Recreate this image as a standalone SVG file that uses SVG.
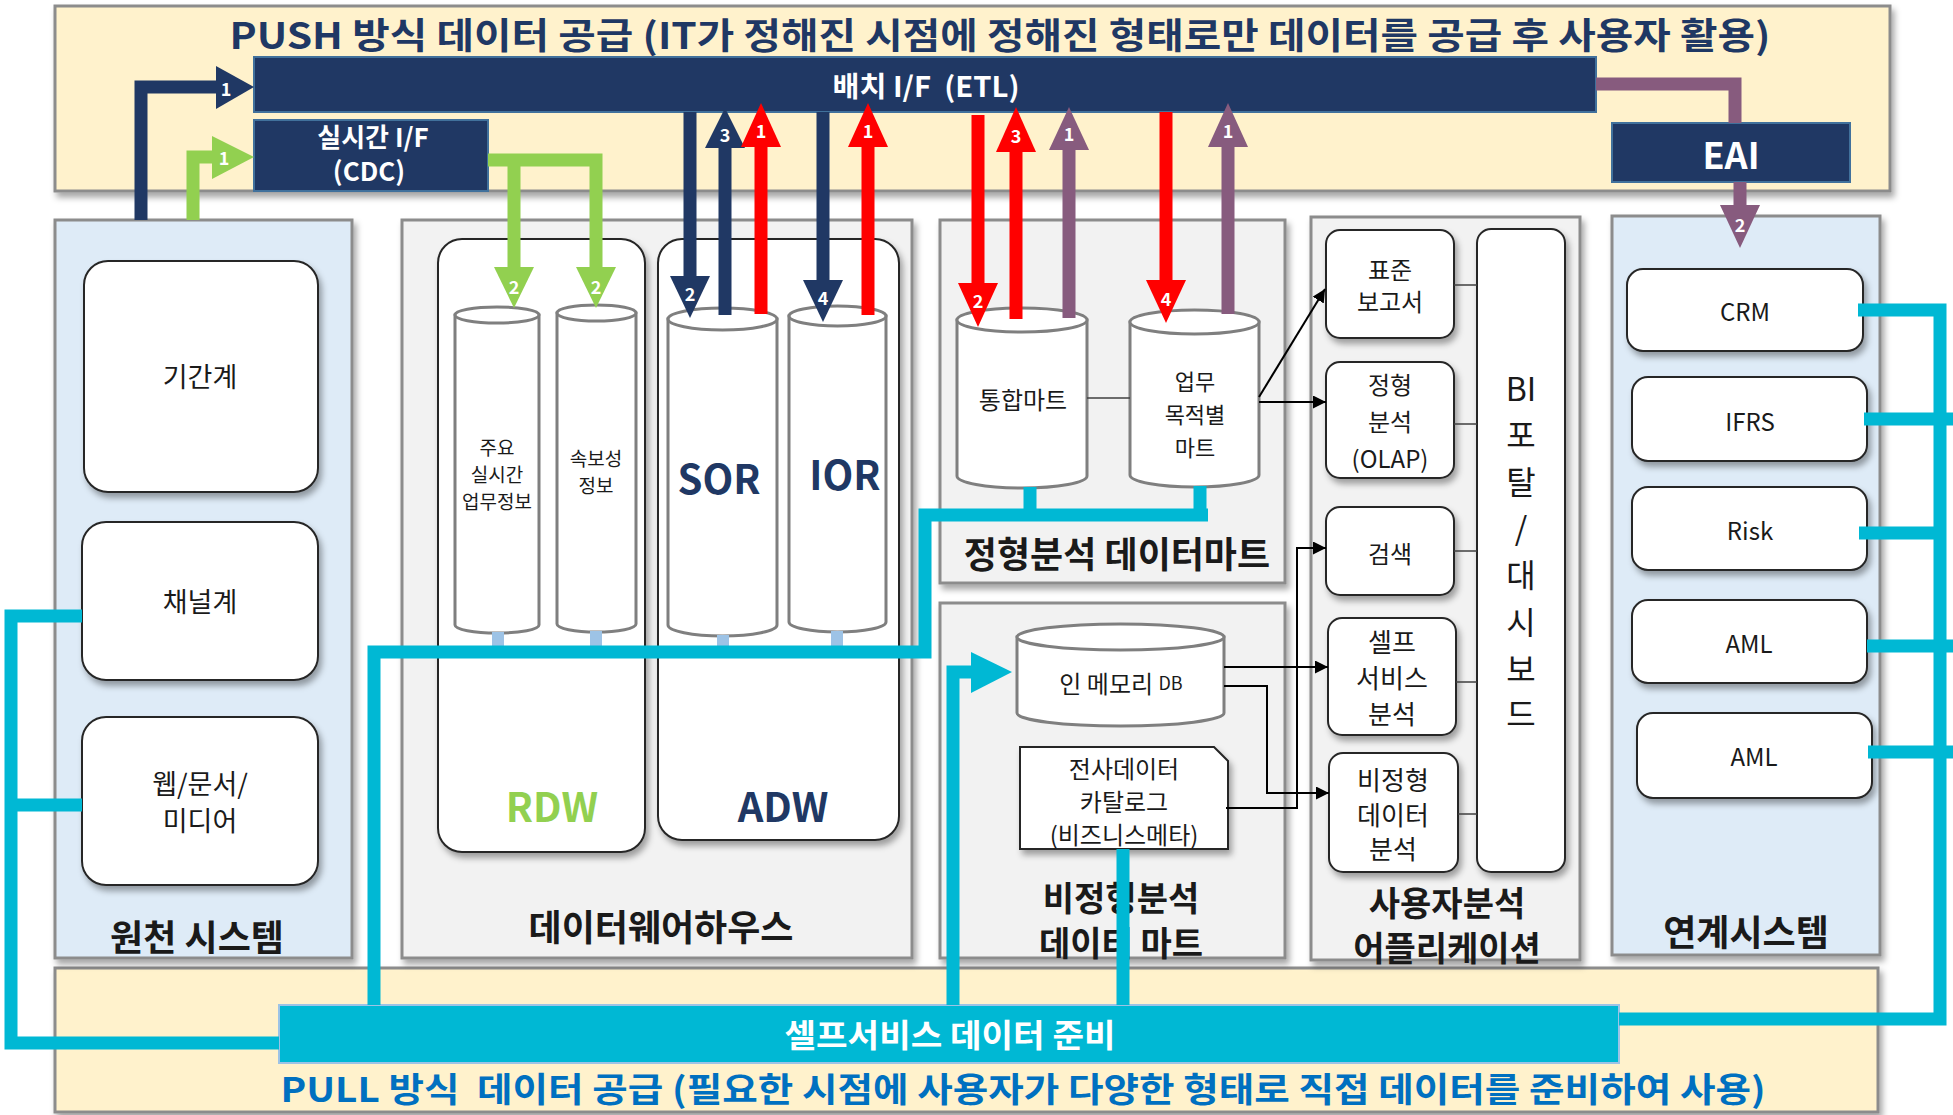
<svg xmlns="http://www.w3.org/2000/svg" width="1953" height="1115" viewBox="0 0 1953 1115">
<defs>
<filter id="sh" x="-10%" y="-10%" width="130%" height="130%"><feDropShadow dx="3" dy="5" stdDeviation="3" flood-color="#000" flood-opacity="0.35"/></filter>
<marker id="blk" viewBox="0 0 10 10" refX="10" refY="5" markerWidth="13" markerHeight="13" markerUnits="userSpaceOnUse" orient="auto"><path d="M0,0 L10,5 L0,10 Z" fill="#000"/></marker>
<style>
.t{font-family:"Noto Sans CJK KR","Noto Sans",sans-serif;dominant-baseline:central;text-anchor:middle;fill:#1a1a1a}
.b{font-weight:700}
.w{fill:#fff}
.zone{fill:#FFF2CC;stroke:#8C8C8C;stroke-width:3}
.pB{fill:#DEEBF7;stroke:#8C8C8C;stroke-width:3}
.pG{fill:#F2F2F2;stroke:#8C8C8C;stroke-width:3}
.box{fill:#fff;stroke:#262626;stroke-width:2}
.cyl{fill:#fff;stroke:#7F7F7F;stroke-width:3}
.nbar{fill:#203864;stroke:#41719C;stroke-width:2}
.cbar{fill:#00B8D4;stroke:#9DC3E6;stroke-width:2}
.ln{fill:none;stroke-width:13;stroke-linejoin:miter}
.navy{stroke:#203864}.fnavy{fill:#203864}
.green{stroke:#92D050}.fgreen{fill:#92D050}
.red{stroke:#FF0000}.fred{fill:#FF0000}
.pur{stroke:#875B7E}.fpur{fill:#875B7E}
.cyan{stroke:#00B8D4}.fcyan{fill:#00B8D4}
.lb{stroke:#9DC3E6;stroke-width:12;fill:none}
.thin{stroke:#000;stroke-width:2;fill:none}
.gl{stroke:#404040;stroke-width:1.5;fill:none}
.num{font-family:"Noto Sans CJK KR","Noto Sans",sans-serif;dominant-baseline:central;text-anchor:middle;fill:#fff;font-size:18px;font-weight:700}
</style>
</defs>

<!-- PUSH zone -->
<g id="push-zone">
<rect class="zone" x="55" y="6" width="1835" height="185" filter="url(#sh)"/>
<text class="t b" x="1000" y="33" font-size="36" style="fill:#1F3864" textLength="1541" lengthAdjust="spacingAndGlyphs">PUSH 방식 데이터 공급 (IT가 정해진 시점에 정해진 형태로만 데이터를 공급 후 사용자 활용)</text>
</g>
<g id="batch-if">
<rect class="nbar" x="254" y="57" width="1342" height="55"/>
<text class="t b w" x="926" y="85" font-size="28" xml:space="preserve" textLength="187" lengthAdjust="spacingAndGlyphs">배치 I/F  (ETL)</text>
</g>
<g id="cdc-if">
<rect class="nbar" x="254" y="120" width="234" height="71"/>
<text class="t b w" x="373" y="135" font-size="26">실시간 I/F</text>
<text class="t b w" x="369" y="169" font-size="26">(CDC)</text>
</g>
<g id="eai">
<rect class="nbar" x="1612" y="123" width="238" height="59"/>
<text class="t b w" x="1731" y="153" font-size="36">EAI</text>
</g>

<!-- PULL zone -->
<g id="pull-zone">
<rect class="zone" x="55" y="968" width="1823" height="144" filter="url(#sh)"/>
<text class="t b" x="1023" y="1087" font-size="34" style="fill:#0070C0" xml:space="preserve" textLength="1485" lengthAdjust="spacingAndGlyphs">PULL 방식  데이터 공급 (필요한 시점에 사용자가 다양한 형태로 직접 데이터를 준비하여 사용)</text>
</g>

<!-- Source systems -->
<g id="src-panel">
<rect class="pB" x="55" y="220" width="297" height="738" filter="url(#sh)"/>
<text class="t b" x="197" y="935" font-size="36">원천 시스템</text>
</g>
<g id="n-gigan"><rect class="box" x="84" y="261" width="234" height="231" rx="24" filter="url(#sh)"/><text class="t" x="200" y="375" font-size="27">기간계</text></g>
<g id="n-channel"><rect class="box" x="82" y="522" width="236" height="158" rx="24" filter="url(#sh)"/><text class="t" x="200" y="600" font-size="27">채널계</text></g>
<g id="n-web"><rect class="box" x="82" y="717" width="236" height="168" rx="24" filter="url(#sh)"/><text class="t" x="200" y="782" font-size="27">웹/문서/</text><text class="t" x="200" y="819" font-size="27">미디어</text></g>

<!-- Data warehouse -->
<g id="dw-panel">
<rect class="pG" x="402" y="220" width="510" height="738" filter="url(#sh)"/>
<text class="t b" x="661" y="925" font-size="36">데이터웨어하우스</text>
</g>
<g id="rdw"><rect class="box" x="438" y="239" width="207" height="613" rx="24" filter="url(#sh)"/><text class="t b" x="552" y="805" font-size="40" style="fill:#92D050">RDW</text></g>
<g id="adw"><rect class="box" x="658" y="239" width="241" height="601" rx="24" filter="url(#sh)"/><text class="t b" x="783" y="805" font-size="40" style="fill:#203864">ADW</text></g>
<g id="cyl-main">
<path class="cyl" d="M455,315 V625 A42,8 0 0 0 539,625 V315 Z"/><ellipse class="cyl" cx="497" cy="315" rx="42" ry="8"/>
<text class="t" x="497" y="446" font-size="19">주요</text><text class="t" x="497" y="473" font-size="19">실시간</text><text class="t" x="497" y="500" font-size="19">업무정보</text>
</g>
<g id="cyl-fast">
<path class="cyl" d="M557,313 V624 A39.5,8 0 0 0 636,624 V313 Z"/><ellipse class="cyl" cx="596.5" cy="313" rx="39.5" ry="8"/>
<text class="t" x="596" y="457" font-size="19">속보성</text><text class="t" x="596" y="484" font-size="19">정보</text>
</g>
<g id="cyl-sor">
<path class="cyl" d="M668,319 V625 A54.5,11 0 0 0 777,625 V319 Z"/><ellipse class="cyl" cx="722.5" cy="319" rx="54.5" ry="11"/>
<text class="t b" x="719" y="477" font-size="40" style="fill:#203864">SOR</text>
</g>
<g id="cyl-ior">
<path class="cyl" d="M789,316 V622 A48.5,10 0 0 0 886,622 V316 Z"/><ellipse class="cyl" cx="837.5" cy="316" rx="48.5" ry="10"/>
<text class="t b" x="845" y="473" font-size="40" style="fill:#203864">IOR</text>
</g>

<!-- Structured data mart -->
<g id="mart-panel">
<rect class="pG" x="940" y="220" width="345" height="363" filter="url(#sh)"/>
<text class="t b" x="1117" y="552" font-size="36">정형분석 데이터마트</text>
</g>
<g id="cyl-integ">
<path class="cyl" d="M957,320 V476 A65,12 0 0 0 1087,476 V320 Z"/><ellipse class="cyl" cx="1022" cy="320" rx="65" ry="12"/>
<text class="t" x="1023" y="398" font-size="24">통합마트</text>
</g>
<g id="cyl-biz">
<path class="cyl" d="M1130,322 V475 A64.5,12 0 0 0 1259,475 V322 Z"/><ellipse class="cyl" cx="1194.5" cy="322" rx="64.5" ry="12"/>
<text class="t" x="1195" y="380" font-size="22">업무</text><text class="t" x="1195" y="413" font-size="22">목적별</text><text class="t" x="1195" y="446" font-size="22">마트</text>
</g>

<!-- Unstructured data mart -->
<g id="unstruct-panel">
<rect class="pG" x="940" y="603" width="345" height="355" filter="url(#sh)"/>
<text class="t b" x="1121" y="896" font-size="34">비정형분석</text>
<text class="t b" x="1121" y="941" font-size="34">데이터 마트</text>
</g>
<g id="cyl-inmem">
<path class="cyl" d="M1017,637 V713 A103.5,13 0 0 0 1224,713 V637 Z"/><ellipse class="cyl" cx="1120.5" cy="637" rx="103.5" ry="13"/>
<text class="t" x="1121" y="682" font-size="24">인 메모리 <tspan font-size="18">DB</tspan></text>
</g>
<g id="catalog">
<path class="box" d="M1020,747 H1214 L1228,761 V849 H1020 Z" filter="url(#sh)"/>
<text class="t" x="1124" y="767" font-size="24">전사데이터</text><text class="t" x="1124" y="800" font-size="24">카탈로그</text><text class="t" x="1124" y="833" font-size="24">(비즈니스메타)</text>
</g>

<!-- User analysis applications -->
<g id="app-panel">
<rect class="pG" x="1311" y="217" width="269" height="743" filter="url(#sh)"/>
<text class="t b" x="1447" y="901" font-size="34">사용자분석</text>
<text class="t b" x="1447" y="946" font-size="34">어플리케이션</text>
</g>
<g id="app-std"><rect class="box" x="1326" y="230" width="128" height="108" rx="14" filter="url(#sh)"/><text class="t" x="1390" y="268" font-size="24">표준</text><text class="t" x="1390" y="300" font-size="24">보고서</text></g>
<g id="app-olap"><rect class="box" x="1326" y="362" width="128" height="116" rx="14" filter="url(#sh)"/><text class="t" x="1390" y="383" font-size="24">정형</text><text class="t" x="1390" y="420" font-size="24">분석</text><text class="t" x="1390" y="457" font-size="24">(OLAP)</text></g>
<g id="app-search"><rect class="box" x="1326" y="507" width="128" height="88" rx="14" filter="url(#sh)"/><text class="t" x="1390" y="552" font-size="24">검색</text></g>
<g id="app-self"><rect class="box" x="1328" y="618" width="128" height="117" rx="14" filter="url(#sh)"/><text class="t" x="1392" y="640" font-size="26">셀프</text><text class="t" x="1392" y="676" font-size="26">서비스</text><text class="t" x="1392" y="712" font-size="26">분석</text></g>
<g id="app-unstr"><rect class="box" x="1329" y="753" width="129" height="119" rx="14" filter="url(#sh)"/><text class="t" x="1393" y="778" font-size="26">비정형</text><text class="t" x="1393" y="813" font-size="26">데이터</text><text class="t" x="1393" y="847" font-size="26">분석</text></g>
<g id="bi-portal"><rect class="box" x="1477" y="229" width="88" height="643" rx="14" filter="url(#sh)"/>
<text class="t" x="1521" font-size="32"><tspan x="1521" y="387">BI</tspan><tspan x="1521" y="433">포</tspan><tspan x="1521" y="480">탈</tspan><tspan x="1521" y="526">/</tspan><tspan x="1521" y="573">대</tspan><tspan x="1521" y="620">시</tspan><tspan x="1521" y="667">보</tspan><tspan x="1521" y="712">드</tspan></text>
</g>

<!-- Linked systems -->
<g id="link-panel">
<rect class="pB" x="1612" y="216" width="268" height="739" filter="url(#sh)"/>
<text class="t b" x="1746" y="930" font-size="36">연계시스템</text>
</g>
<g id="crm"><rect class="box" x="1627" y="269" width="236" height="82" rx="16" filter="url(#sh)"/><text class="t" x="1745" y="310" font-size="24">CRM</text></g>
<g id="ifrs"><rect class="box" x="1632" y="377" width="235" height="84" rx="16" filter="url(#sh)"/><text class="t" x="1750" y="420" font-size="24">IFRS</text></g>
<g id="risk"><rect class="box" x="1632" y="487" width="235" height="83" rx="16" filter="url(#sh)"/><text class="t" x="1750" y="529" font-size="24">Risk</text></g>
<g id="aml1"><rect class="box" x="1632" y="600" width="235" height="83" rx="16" filter="url(#sh)"/><text class="t" x="1749" y="642" font-size="24">AML</text></g>
<g id="aml2"><rect class="box" x="1637" y="713" width="235" height="85" rx="16" filter="url(#sh)"/><text class="t" x="1754" y="755" font-size="24">AML</text></g>

<!-- Self-service data prep bar -->
<g id="self-prep">
<rect class="cbar" x="279" y="1005" width="1340" height="58"/>
<text class="t b w" x="950" y="1033" font-size="32" textLength="331" lengthAdjust="spacingAndGlyphs">셀프서비스 데이터 준비</text>
</g>

<!-- Connectors -->
<g id="connectors">
<path class="gl" d="M1087,398 H1130 M1454,285 H1477 M1454,424 H1477 M1454,551 H1477 M1456,682 H1477 M1458,814 H1477"/>
<path class="thin" d="M1259,397 L1325,289" marker-end="url(#blk)"/>
<path class="thin" d="M1259,402 H1326" marker-end="url(#blk)"/>
<path class="thin" d="M1226,808 H1297 V548 H1326" marker-end="url(#blk)"/>
<path class="thin" d="M1224,667 H1328" marker-end="url(#blk)"/>
<path class="thin" d="M1224,686 H1267 V793 H1329" marker-end="url(#blk)"/>

<path class="ln navy" d="M141,220 V87 H217"/>
<polygon class="fnavy" points="216,66 254,87 216,109"/>
<text class="num" x="226" y="88">1</text>
<path class="ln green" d="M193,220 V157 H213"/>
<polygon class="fgreen" points="212,136 254,157 212,179"/>
<text class="num" x="224" y="157">1</text>

<path class="ln green" d="M488,160 H596 V268 M514,160 V268"/>
<polygon class="fgreen" points="494,267 534,267 514,308"/>
<polygon class="fgreen" points="576,267 616,267 596,308"/>
<text class="num" x="514" y="286">2</text>
<text class="num" x="596" y="286">2</text>

<path class="ln navy" d="M690,112 V277"/>
<polygon class="fnavy" points="670,276 710,276 690,318"/>
<text class="num" x="690" y="293">2</text>
<path class="ln navy" d="M725,315 V147"/>
<polygon class="fnavy" points="705,148 745,148 725,108"/>
<text class="num" x="725" y="134">3</text>
<path class="ln red" d="M761,314 V146"/>
<polygon class="fred" points="741,147 781,147 761,103"/>
<text class="num" x="761" y="130">1</text>
<path class="ln navy" d="M823,112 V281"/>
<polygon class="fnavy" points="803,280 843,280 823,322"/>
<text class="num" x="823" y="297">4</text>
<path class="ln red" d="M868,315 V146"/>
<polygon class="fred" points="848,147 888,147 868,103"/>
<text class="num" x="868" y="130">1</text>

<path class="ln red" d="M978,115 V284"/>
<polygon class="fred" points="958,283 998,283 978,327"/>
<text class="num" x="978" y="300">2</text>
<path class="ln red" d="M1016,319 V151"/>
<polygon class="fred" points="996,152 1036,152 1016,107"/>
<text class="num" x="1016" y="135">3</text>
<path class="ln pur" d="M1069,318 V149"/>
<polygon class="fpur" points="1049,150 1089,150 1069,107"/>
<text class="num" x="1069" y="133">1</text>
<path class="ln red" d="M1166,112 V281"/>
<polygon class="fred" points="1146,280 1186,280 1166,323"/>
<text class="num" x="1166" y="298">4</text>
<path class="ln pur" d="M1228,314 V146"/>
<polygon class="fpur" points="1208,147 1248,147 1228,103"/>
<text class="num" x="1228" y="130">1</text>

<path class="ln pur" d="M1596,84 H1735 V123"/>
<path class="ln pur" d="M1740,182 V206"/>
<polygon class="fpur" points="1720,205 1760,205 1740,248"/>
<text class="num" x="1740" y="224">2</text>

<path class="ln cyan" d="M82,616 H11 V1043 H279 M82,805 H11"/>
<path class="lb" d="M498,632 V650 M596,631 V650 M723,635 V650 M837,631 V650"/>
<path class="ln cyan" d="M374,1005 V652 H925 V515 H1208"/>
<path class="ln cyan" d="M1030,487 V515 M1200,486 V515"/>
<path class="ln cyan" d="M953,1005 V672 H972"/>
<polygon class="fcyan" points="971,652 1012,672 971,693"/>
<path class="ln cyan" d="M1123,849 V1005"/>
<path class="ln cyan" d="M1619,1019 H1940 V310 H1858"/>
<path class="ln cyan" d="M1864,419 H1953 M1859,533 H1940 M1867,646 H1953 M1868,752 H1953"/>
</g>
</svg>
